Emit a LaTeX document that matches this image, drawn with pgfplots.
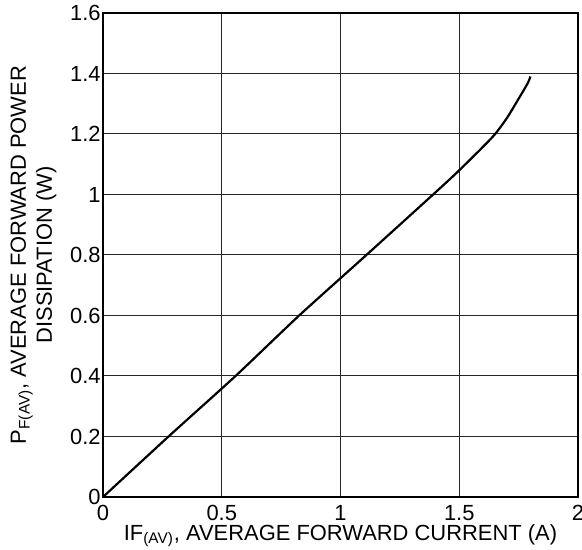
\documentclass[border=0pt]{standalone}
\usepackage{pgfplots}
\pgfplotsset{compat=1.18}
\usepackage{fontspec}
\setmainfont{Liberation Sans}
\begin{document}
\fontsize{11}{13}\selectfont
\begin{tikzpicture}
\begin{axis}[
  width=237.5bp, height=242bp, scale only axis,
  xmin=0, xmax=2, ymin=0, ymax=1.6,
  xtick={0,0.5,1,1.5,2},
  ytick={0,0.2,0.4,0.6,0.8,1,1.2,1.4,1.6},
  grid=major,
  major grid style={black!85, line width=0.5bp},
  tick style={draw=none},
  axis line style={line width=0.6bp},
  /pgf/number format/assume math mode=true,
  font=\fontsize{11}{13}\selectfont,
  xticklabel style={inner sep=0bp, yshift=-4bp},
  yticklabel style={inner sep=1bp},
  xlabel={IF\textsubscript{(AV)}, AVERAGE FORWARD CURRENT (A)},
  ylabel={P\textsubscript{F(AV)}, AVERAGE FORWARD POWER\\DISSIPATION (W)},
  ylabel style={align=center, yshift=2bp},
  xlabel style={inner sep=0bp, yshift=-1.5bp},
]
\addplot[black, line width=1.1bp, smooth, tension=0.4] coordinates {
 (0,0) (0.276,0.2) (0.558,0.4) (0.826,0.6)
 (1.109,0.8) (1.39,1.0) (1.5,1.08) (1.64,1.19) (1.70,1.252)
 (1.745,1.31) (1.787,1.366) (1.80,1.39)
};
\end{axis}
\pgfresetboundingbox
\path[use as bounding box] ([shift={(-51.5bp,-26.5bp)}]current axis.south west) rectangle ++(291bp,275bp);
\end{tikzpicture}
\end{document}
